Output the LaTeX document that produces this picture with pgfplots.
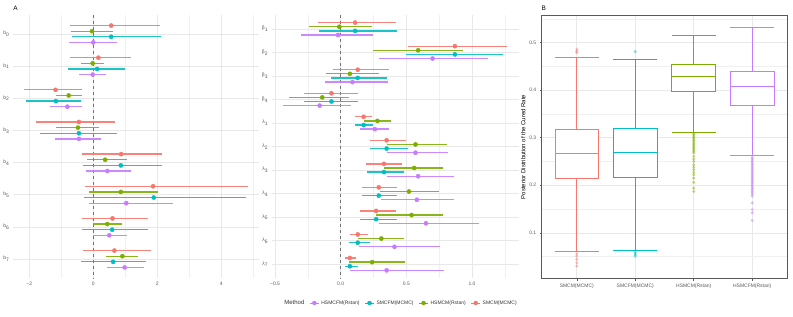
\documentclass[border=0pt]{standalone}
\usepackage{pgfplots}
\pgfplotsset{compat=1.18}
\usepackage{pgfplotstable}
\usepgfplotslibrary{statistics}
\usepackage{fontspec}
\setmainfont{Liberation Sans}

\definecolor{cR}{HTML}{F8766D}
\definecolor{cG}{HTML}{7CAE00}
\definecolor{cC}{HTML}{00BFC4}
\definecolor{cP}{HTML}{C77CFF}

% ---- Panel A, left: b0..b7 ----
\pgfplotstableread{
k est lo hi
1 0.56 -0.74 2.08
2 0.16 -0.72 1.17
3 -1.18 -2.16 -0.36
4 -0.45 -1.79 0.69
5 0.87 -0.36 2.15
6 1.87 -0.27 4.83
7 0.60 -0.35 1.70
8 0.66 -0.32 1.79
}\LR
\pgfplotstableread{
k est lo hi
1 -0.04 -0.70 0.62
2 -0.02 -0.38 0.32
3 -0.77 -1.18 -0.36
4 -0.48 -1.18 0.17
5 0.37 -0.19 1.04
6 0.86 -0.13 2.02
7 0.44 0.00 0.89
8 0.91 0.40 1.39
}\LG
\pgfplotstableread{
k est lo hi
1 0.56 -0.67 2.12
2 0.12 -0.79 0.99
3 -1.17 -2.11 -0.37
4 -0.45 -1.67 0.73
5 0.86 -0.33 2.15
6 1.89 -0.29 4.76
7 0.59 -0.34 1.70
8 0.62 -0.38 1.65
}\LC
\pgfplotstableread{
k est lo hi
1 0.00 -0.76 0.73
2 -0.02 -0.44 0.39
3 -0.81 -1.34 -0.36
4 -0.45 -1.20 0.23
5 0.44 -0.22 1.17
6 1.03 -0.14 2.49
7 0.50 0.00 1.05
8 0.98 0.42 1.58
}\LP

% ---- Panel A, middle: beta1..beta4, lambda1..lambda7 ----
\pgfplotstableread{
k est lo hi
1 0.11 -0.17 0.42
2 0.87 0.51 1.27
3 0.13 -0.06 0.37
4 -0.07 -0.28 0.13
5 0.175 0.11 0.24
6 0.35 0.22 0.50
7 0.33 0.19 0.47
8 0.29 0.165 0.43
9 0.27 0.15 0.42
10 0.13 0.07 0.21
11 0.07 0.03 0.12
}\MR
\pgfplotstableread{
k est lo hi
1 -0.01 -0.24 0.24
2 0.59 0.25 0.93
3 0.07 -0.11 0.29
4 -0.14 -0.39 0.06
5 0.28 0.18 0.38
6 0.57 0.35 0.81
7 0.56 0.33 0.78
8 0.52 0.30 0.75
9 0.54 0.27 0.78
10 0.31 0.13 0.48
11 0.24 0.06 0.49
}\MG
\pgfplotstableread{
k est lo hi
1 0.11 -0.165 0.43
2 0.87 0.50 1.24
3 0.13 -0.07 0.35
4 -0.07 -0.28 0.13
5 0.175 0.11 0.25
6 0.35 0.22 0.51
7 0.33 0.20 0.48
8 0.29 0.165 0.43
9 0.27 0.15 0.43
10 0.13 0.06 0.22
11 0.07 0.03 0.13
}\MC
\pgfplotstableread{
k est lo hi
1 -0.02 -0.30 0.25
2 0.70 0.29 1.12
3 0.09 -0.12 0.36
4 -0.16 -0.44 0.08
5 0.26 0.15 0.37
6 0.57 0.35 0.82
7 0.59 0.35 0.86
8 0.58 0.31 0.86
9 0.65 0.29 1.05
10 0.41 0.14 0.76
11 0.35 0.07 0.79
}\MP

% interval (lo..hi) drawn as quiver segments, then the point estimates
\newcommand{\forestplot}[3]{%
  \addplot[forget plot, draw=#2, line width=1.3pt, -, opacity=0.9,
    quiver={u=\thisrow{hi}-\thisrow{lo}, v=0}]
  table[x=lo, y expr=\thisrow{k}+#3] {#1};
  \addplot[forget plot, only marks, mark=*, mark size=2.1pt,
    mark options={draw=#2, fill=#2}]
  table[x=est, y expr=\thisrow{k}+#3] {#1};}

\pgfplotsset{
  forestax/.style={
    scale only axis, y dir=reverse,
    axis line style={draw=none},
    major tick length=0pt, minor tick length=0pt,
    xmajorgrids, xminorgrids, ymajorgrids,
    major grid style={draw=black!9, line width=0.6pt},
    minor grid style={draw=black!6, line width=0.4pt},
    tick label style={font=\fontsize{5}{6}\selectfont, text=black!65},
  }
}

\begin{document}
\begin{tikzpicture}
\useasboundingbox (0,0) rectangle (793bp,317bp);

\node[font=\fontsize{6.5}{7}\selectfont] at (15.5bp,309bp) {A};
\node[font=\fontsize{6.5}{7}\selectfont] at (543.7bp,309bp) {B};

% left forest panel
\begin{axis}[forestax, at={(13bp,38.7bp)}, anchor=south west,
  width=246bp, height=263.6bp,
  xmin=-2.51, xmax=5.18, ymin=0.4, ymax=8.6,
  xtick={-2,0,2,4}, xticklabels={−2,0,2,4},
  minor xtick={-1,1,3,5},
  ytick={1,2,3,4,5,6,7,8},
  yticklabels={b\textsubscript{0},b\textsubscript{1},b\textsubscript{2},b\textsubscript{3},b\textsubscript{4},b\textsubscript{5},b\textsubscript{6},b\textsubscript{7}}]
\addplot[forget plot, dashed, black!55, line width=0.8pt] coordinates {(0,0.4) (0,8.6)};
\forestplot{\LR}{cR}{-0.2625}
\forestplot{\LG}{cG}{-0.0875}
\forestplot{\LC}{cC}{0.0875}
\forestplot{\LP}{cP}{0.2625}
\end{axis}

% middle forest panel
\begin{axis}[forestax, at={(271.6bp,38.7bp)}, anchor=south west,
  width=247.1bp, height=263.6bp,
  xmin=-0.526, xmax=1.356, ymin=0.4, ymax=11.6,
  xtick={-0.5,0,0.5,1}, xticklabels={−0.5,0.0,0.5,1.0},
  minor xtick={-0.25,0.25,0.75,1.25},
  ytick={1,2,3,4,5,6,7,8,9,10,11},
  yticklabels={β\textsubscript{1},β\textsubscript{2},β\textsubscript{3},β\textsubscript{4},λ\textsubscript{1},λ\textsubscript{2},λ\textsubscript{3},λ\textsubscript{4},λ\textsubscript{5},λ\textsubscript{6},λ\textsubscript{7}},
  legend image code/.code={\draw[#1, line width=1pt] (0bp,0bp) -- (9bp,0bp); \fill[#1] (4.5bp,0bp) circle (2bp);},
  legend style={draw=none, fill=none, at={(0.522,-0.0937)}, anchor=center,
    font=\fontsize{5}{6}\selectfont, text=black!80, inner sep=0pt,
    /tikz/every even column/.append style={column sep=3bp}},
  legend columns=-1]
\addplot[forget plot, dashed, black!55, line width=0.8pt] coordinates {(0,0.4) (0,11.6)};
\forestplot{\MR}{cR}{-0.2625}
\forestplot{\MG}{cG}{-0.0875}
\forestplot{\MC}{cC}{0.0875}
\forestplot{\MP}{cP}{0.2625}
\addlegendimage{empty legend}
\addlegendentry{\fontsize{6}{7}\selectfont Method}
\addlegendimage{cP}
\addlegendentry{HSMCFM(Rstan)}
\addlegendimage{cC}
\addlegendentry{SMCFM(MCMC)}
\addlegendimage{cG}
\addlegendentry{HSMCM(Rstan)}
\addlegendimage{cR}
\addlegendentry{SMCM(MCMC)}
\end{axis}

% panel B boxplots
\begin{axis}[scale only axis, at={(541.7bp,38.3bp)}, anchor=south west,
  width=245.6bp, height=263.4bp,
  xmin=0.4, xmax=4.6, ymin=0.0035, ymax=0.5575,
  xtick={1,2,3,4},
  xticklabels={SMCM(MCMC),SMCFM(MCMC),HSMCM(Rstan),HSMCFM(Rstan)},
  ytick={0.1,0.2,0.3,0.4,0.5}, yticklabels={0.1,0.2,0.3,0.4,0.5},
  minor ytick={0.05,0.15,0.25,0.35,0.45,0.55},
  xmajorgrids, ymajorgrids, yminorgrids,
  major grid style={draw=black!9, line width=0.6pt},
  minor grid style={draw=black!6, line width=0.4pt},
  axis line style={draw=black!65, line width=0.7pt},
  tick pos=left, tick align=outside,
  major tick length=2bp, minor tick length=0pt,
  major tick style={draw=black!65, line width=0.5pt},
  tick label style={font=\fontsize{5}{6}\selectfont, text=black!65},
  ylabel={Posterior Distribution of the Cured Rate},
  ylabel style={font=\fontsize{6}{7}\selectfont, yshift=-3bp},
  boxplot/draw direction=y]
\addplot+[solid, draw=cR, fill=white, line width=0.7pt, mark=*, mark size=1.2pt,
  mark options={fill=cR, draw=none, opacity=0.35},
  boxplot prepared={draw position=1, box extend=0.75, whisker extend=0.75,
    lower whisker=0.0607, lower quartile=0.214,
    median=0.268, upper quartile=0.318, upper whisker=0.469}]
  coordinates {(1,0.479) (1,0.482) (1,0.486) (1,0.056) (1,0.051) (1,0.044) (1,0.037) (1,0.030)};
\addplot+[solid, draw=cC, fill=white, line width=0.7pt, mark=*, mark size=1.2pt,
  mark options={fill=cC, draw=none, opacity=0.35},
  boxplot prepared={draw position=2, box extend=0.75, whisker extend=0.75,
    lower whisker=0.064, lower quartile=0.217,
    median=0.269, upper quartile=0.320, upper whisker=0.465}]
  coordinates {(2,0.481) (2,0.060) (2,0.057) (2,0.054) (2,0.051)};
\addplot+[solid, draw=cG, fill=white, line width=0.7pt, mark=*, mark size=1.2pt,
  mark options={fill=cG, draw=none, opacity=0.35},
  boxplot prepared={draw position=3, box extend=0.75, whisker extend=0.75,
    lower whisker=0.312, lower quartile=0.398,
    median=0.430, upper quartile=0.454, upper whisker=0.515}]
  coordinates {(3,0.310) (3,0.307) (3,0.304) (3,0.301) (3,0.298) (3,0.295) (3,0.292) (3,0.289) (3,0.286) (3,0.283) (3,0.280) (3,0.277) (3,0.274) (3,0.271) (3,0.268) (3,0.261) (3,0.255) (3,0.250) (3,0.243) (3,0.238) (3,0.233) (3,0.227) (3,0.222) (3,0.215) (3,0.206) (3,0.194) (3,0.187)};
\addplot+[solid, draw=cP, fill=white, line width=0.7pt, mark=*, mark size=1.2pt,
  mark options={fill=cP, draw=none, opacity=0.35},
  boxplot prepared={draw position=4, box extend=0.75, whisker extend=0.75,
    lower whisker=0.262, lower quartile=0.369,
    median=0.409, upper quartile=0.440, upper whisker=0.532}]
  coordinates {(4,0.259) (4,0.256) (4,0.253) (4,0.250) (4,0.247) (4,0.244) (4,0.241) (4,0.238) (4,0.235) (4,0.232) (4,0.229) (4,0.226) (4,0.223) (4,0.220) (4,0.217) (4,0.214) (4,0.211) (4,0.208) (4,0.205) (4,0.202) (4,0.199) (4,0.196) (4,0.193) (4,0.190) (4,0.187) (4,0.184) (4,0.181) (4,0.177) (4,0.163) (4,0.149) (4,0.142) (4,0.126)};
\end{axis}
\end{tikzpicture}
\end{document}
